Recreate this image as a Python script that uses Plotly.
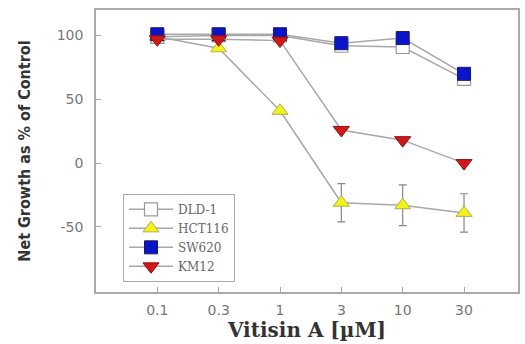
import plotly.graph_objects as go

concentrations = ["0.1", "0.3", "1", "3", "10", "30"]
y_ticks = [-50, 0, 50, 100]
y_tick_labels = ["-50", "0", "50", "100"]
dld1 = [99, 100, 100, 92, 91, 66]
hct116 = [99, 90, 41, -31, -33, -39]
hct116_err = [0, 0, 0, 15, 16, 15]
sw620 = [101, 101, 101, 94, 98, 70]
km12 = [97, 97, 96, 26, 18, 0]

xpos = list(range(len(concentrations)))
line_col = "#a8a8a8"

fig = go.Figure()
fig.add_trace(go.Scatter(x=xpos, y=dld1, name="DLD-1", mode="lines+markers",
                         line=dict(color=line_col, width=1.5),
                         marker=dict(symbol="square", size=13, color="white",
                                     line=dict(color="#999999", width=1.2))))
fig.add_trace(go.Scatter(x=xpos, y=hct116, name="HCT116", mode="lines+markers",
                         line=dict(color=line_col, width=1.5),
                         error_y=dict(type="data", array=hct116_err, color="#888888",
                                      thickness=1.2, width=4),
                         marker=dict(symbol="triangle-up", size=14, color="#f2f21a",
                                     line=dict(color="#b0b050", width=1))))
fig.add_trace(go.Scatter(x=xpos, y=sw620, name="SW620", mode="lines+markers",
                         line=dict(color=line_col, width=1.5),
                         marker=dict(symbol="square", size=13, color="#0a14c8",
                                     line=dict(color="#1a1a60", width=1))))
fig.add_trace(go.Scatter(x=xpos, y=km12, name="KM12", mode="lines+markers",
                         line=dict(color=line_col, width=1.5),
                         marker=dict(symbol="triangle-down", size=14, color="#d01818",
                                     line=dict(color="#901010", width=1))))

fig.update_layout(
    width=525, height=344,
    margin=dict(l=96, r=5, t=10, b=52),
    paper_bgcolor="white", plot_bgcolor="white",
    showlegend=True,
    legend=dict(x=0.064, y=0.348, xanchor="left", yanchor="top",
                bgcolor="white", bordercolor="#aaaaaa", borderwidth=1,
                font=dict(family="DejaVu Serif", size=12, color="#666666"),
                itemwidth=44, tracegroupgap=0),
    font=dict(family="DejaVu Sans", size=14, color="#777777"),
)
fig.update_xaxes(range=[-1, 5.88], tickmode="array", tickvals=xpos, ticktext=concentrations,
                 ticks="inside", ticklen=5, tickcolor="#aaaaaa", ticklabelstandoff=4,
                 showline=True, linecolor="#aaaaaa", linewidth=1.5, mirror=True,
                 showgrid=False, zeroline=False,
                 tickfont=dict(family="DejaVu Sans", size=14, color="#777777"),
                 title=dict(text="Vitisin A [µM]", standoff=6,
                            font=dict(family="DejaVu Serif", size=20, color="#333333",
                                      weight="bold")))
fig.update_yaxes(range=[-101, 120], tickmode="array", tickvals=y_ticks, ticktext=y_tick_labels,
                 ticks="inside", ticklen=5, tickcolor="#aaaaaa", ticklabelstandoff=8,
                 showline=True, linecolor="#aaaaaa", linewidth=1.5, mirror=True,
                 showgrid=False, zeroline=False,
                 tickfont=dict(family="DejaVu Sans", size=14, color="#777777"),
                 title=dict(text="Net Growth as % of Control", standoff=22,
                            font=dict(family="DejaVu Sans Condensed", size=16, color="#333333",
                                      weight="bold")))

fig.write_html("out.html")
